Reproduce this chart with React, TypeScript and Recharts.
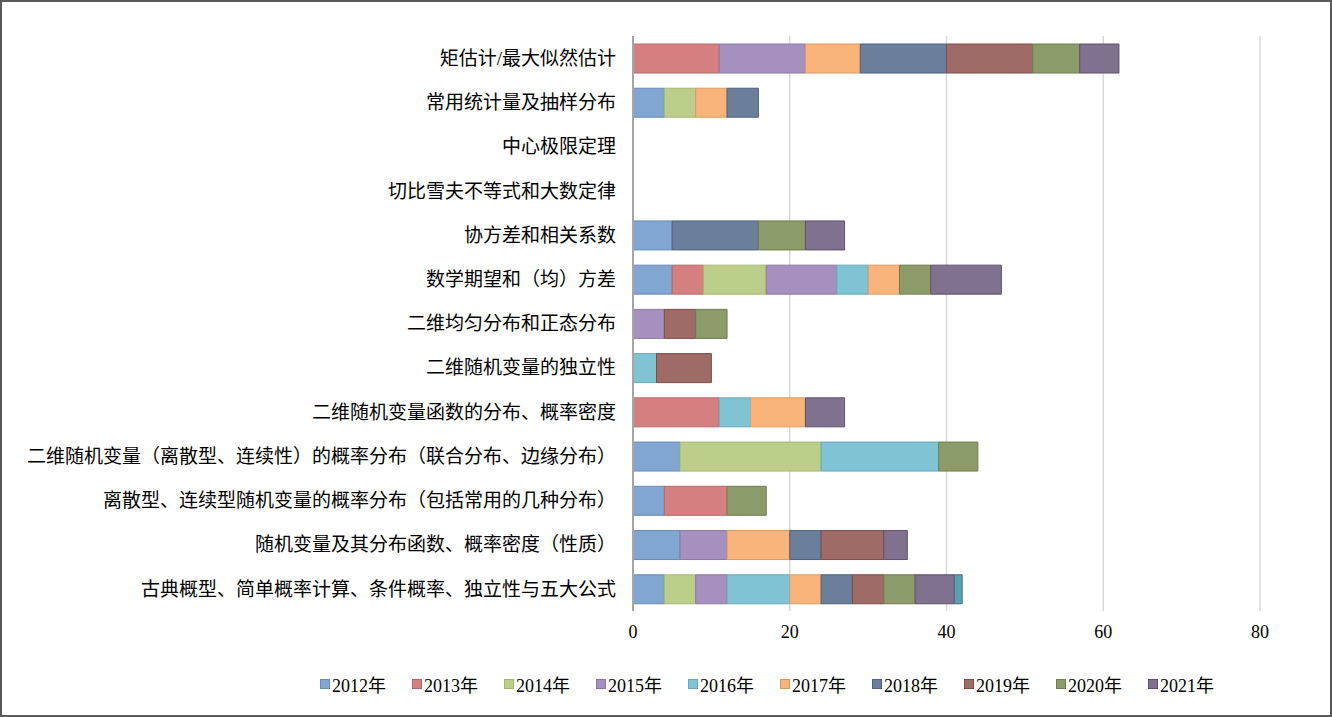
import { BarChart, Bar, XAxis, YAxis, CartesianGrid } from "recharts";

const categories = [
  "矩估计/最大似然估计",
  "常用统计量及抽样分布",
  "中心极限定理",
  "切比雪夫不等式和大数定律",
  "协方差和相关系数",
  "数学期望和（均）方差",
  "二维均匀分布和正态分布",
  "二维随机变量的独立性",
  "二维随机变量函数的分布、概率密度",
  "二维随机变量（离散型、连续性）的概率分布（联合分布、边缘分布）",
  "离散型、连续型随机变量的概率分布（包括常用的几种分布）",
  "随机变量及其分布函数、概率密度（性质）",
  "古典概型、简单概率计算、条件概率、独立性与五大公式",
];

const y2012 = [0, 4, 0, 0, 5, 5, 0, 0, 0, 6, 4, 6, 4];
const y2013 = [11, 0, 0, 0, 0, 4, 0, 0, 11, 0, 8, 0, 0];
const y2014 = [0, 4, 0, 0, 0, 8, 0, 0, 0, 18, 0, 0, 4];
const y2015 = [11, 0, 0, 0, 0, 9, 4, 0, 0, 0, 0, 6, 4];
const y2016 = [0, 0, 0, 0, 0, 4, 0, 3, 4, 15, 0, 0, 8];
const y2017 = [7, 4, 0, 0, 0, 4, 0, 0, 7, 0, 0, 8, 4];
const y2018 = [11, 4, 0, 0, 11, 0, 0, 0, 0, 0, 0, 4, 4];
const y2019 = [11, 0, 0, 0, 0, 0, 4, 7, 0, 0, 0, 8, 4];
const y2020 = [6, 0, 0, 0, 6, 4, 4, 0, 0, 5, 5, 0, 4];
const y2021 = [5, 0, 0, 0, 5, 9, 0, 0, 5, 0, 0, 3, 5];
// unlabeled sliver at the end of the last bar (not in the legend)
const extra = [0, 0, 0, 0, 0, 0, 0, 0, 0, 0, 0, 0, 1];

const xTicks = [0, 20, 40, 60, 80];

const series = [
  { key: "2012年", values: y2012, fill: "#81a6d1", stroke: "#6a8bb8" },
  { key: "2013年", values: y2013, fill: "#d48080", stroke: "#b86868" },
  { key: "2014年", values: y2014, fill: "#bccf8a", stroke: "#a3b874" },
  { key: "2015年", values: y2015, fill: "#a590bf", stroke: "#8c78a6" },
  { key: "2016年", values: y2016, fill: "#80c3d5", stroke: "#68a9bb" },
  { key: "2017年", values: y2017, fill: "#f8b47a", stroke: "#dc9a62" },
  { key: "2018年", values: y2018, fill: "#6b7f9b", stroke: "#4c6280" },
  { key: "2019年", values: y2019, fill: "#9f6b66", stroke: "#7f4c48" },
  { key: "2020年", values: y2020, fill: "#8b9b6a", stroke: "#6e7e4e" },
  { key: "2021年", values: y2021, fill: "#80718f", stroke: "#5f5072" },
];

const extraColor = { fill: "#5f9eb0", stroke: "#3f6f8a" };

const data = categories.map((name, i) => {
  const row: Record<string, string | number | null> = { name };
  series.forEach((s) => {
    row[s.key] = s.values[i] || null;
  });
  row["其他"] = extra[i] || null;
  return row;
});

const serif = "'Liberation Serif', 'Noto Sans CJK SC', serif";

export default function App() {
  return (
    <>
      <style>{`body{margin:0}`}</style>
      <div
        style={{
          position: "relative",
          width: 1332,
          height: 717,
          boxSizing: "border-box",
          border: "2px solid #5a5a5a",
          background: "#fff",
        }}
      >
        <BarChart
          width={1328}
          height={713}
          data={data}
          layout="vertical"
          barSize={29}
          margin={{ top: 34, right: 70, bottom: 74, left: 0 }}
        >
          <CartesianGrid horizontal={false} stroke="#d9d9d9" strokeWidth={1.5} />
          <XAxis
            type="number"
            domain={[0, 80]}
            ticks={xTicks}
            axisLine={false}
            tickLine={false}
            tickMargin={8}
            height={30}
            tick={{ fill: "#000", fontSize: 18, fontFamily: serif }}
          />
          <YAxis
            type="category"
            dataKey="name"
            width={631}
            tickLine={false}
            tickMargin={11}
            axisLine={{ stroke: "#a6a6a6", strokeWidth: 2 }}
            interval={0}
            tick={{ fill: "#000", fontSize: 19, fontFamily: serif }}
          />
          {series.map((s) => (
            <Bar
              key={s.key}
              dataKey={s.key}
              stackId="a"
              fill={s.fill}
              stroke={s.stroke}
              strokeWidth={1}
              isAnimationActive={false}
            />
          ))}
          <Bar
            dataKey="其他"
            stackId="a"
            fill={extraColor.fill}
            stroke={extraColor.stroke}
            strokeWidth={1}
            legendType="none"
            isAnimationActive={false}
          />
        </BarChart>
        <div
          style={{
            position: "absolute",
            top: 669,
            left: 318,
            display: "flex",
            fontFamily: serif,
            fontSize: 18,
            color: "#000",
          }}
        >
          {series.map((s) => (
            <div
              key={s.key}
              style={{ display: "flex", alignItems: "center", width: 92 }}
            >
              <span
                style={{
                  display: "inline-block",
                  width: 8,
                  height: 8,
                  background: s.fill,
                  border: `1px solid ${s.stroke}`,
                  marginRight: 2,
                }}
              />
              <span>{s.key}</span>
            </div>
          ))}
        </div>
      </div>
    </>
  );
}
